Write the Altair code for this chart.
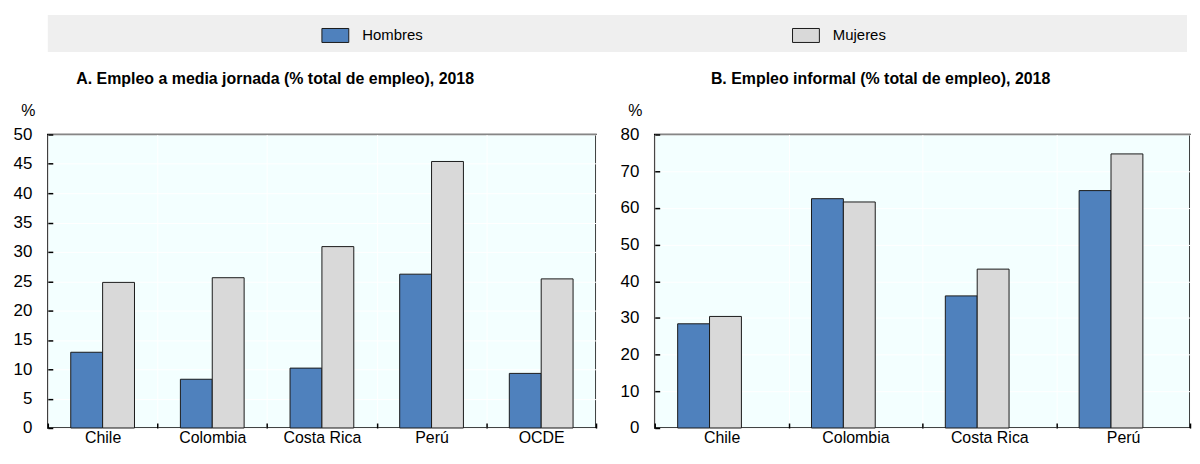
import altair as alt
import pandas as pd

# ---- data ----
series = ["Hombres", "Mujeres"]
series_colors = ["#4F81BD", "#D9D9D9"]

countries_a = ["Chile", "Colombia", "Costa Rica", "Perú", "OCDE"]
hombres_a = [12.9, 8.3, 10.2, 26.2, 9.3]
mujeres_a = [24.8, 25.6, 30.9, 45.4, 25.4]

countries_b = ["Chile", "Colombia", "Costa Rica", "Perú"]
hombres_b = [28.4, 62.5, 36.0, 64.7]
mujeres_b = [30.4, 61.6, 43.3, 74.7]

title_a = "A. Empleo a media jornada (% total de empleo), 2018"
title_b = "B. Empleo informal (% total de empleo), 2018"

FONT = "Liberation Sans, Arial, sans-serif"


def to_long(countries, h, m):
    rows = []
    for c, hv, mv in zip(countries, h, m):
        rows.append({"pais": c, "sexo": "Hombres", "valor": hv})
        rows.append({"pais": c, "sexo": "Mujeres", "valor": mv})
    return pd.DataFrame(rows)


def panel(df, countries, ymax, ystep, title, width, pad_outer, title_dx):
    ticks = list(range(0, ymax + 1, ystep))
    return alt.Chart(df).mark_bar(stroke="#1a1a1a", strokeWidth=1).encode(
        x=alt.X(
            "pais:N", sort=countries,
            scale=alt.Scale(paddingInner=0, paddingOuter=0),
            axis=alt.Axis(
                title=None, labelAngle=0, tickBand="extent", grid=True,
                gridColor="white", gridWidth=1, domain=False, ticks=True,
                tickSize=5, offset=-5, tickColor="#000", tickWidth=1.5,
                labelPadding=2, labelFontSize=16, labelColor="#000", labelFont=FONT,
            ),
        ),
        xOffset=alt.XOffset("sexo:N", sort=series,
                            scale=alt.Scale(paddingOuter=pad_outer, paddingInner=0)),
        y=alt.Y(
            "valor:Q", scale=alt.Scale(domain=[0, ymax], nice=False),
            axis=alt.Axis(
                values=ticks, title="%", titleAngle=0, titleX=-25, titleY=-19,
                titleAlign="center", titleBaseline="alphabetic",
                titleFontWeight="normal", titleFontSize=16, titleFont=FONT,
                titleColor="#000",
                grid=True, gridColor="white", gridWidth=1, domain=False,
                tickSize=5, offset=-5, tickColor="#000", tickWidth=1.5,
                labelPadding=16, labelFontSize=17, labelColor="#000", labelFont=FONT,
            ),
        ),
        color=alt.Color("sexo:N", scale=alt.Scale(domain=series, range=series_colors),
                        legend=None),
    ).properties(
        width=width, height=295,
        title=alt.TitleParams(title, font=FONT, fontSize=16, fontWeight="bold",
                              color="#000", anchor="middle", dx=title_dx, offset=16),
        view=alt.ViewBackground(fill="#F3FFFF", stroke="#000", strokeWidth=1.5),
    )


chart_a = panel(to_long(countries_a, hombres_a, mujeres_a), countries_a, 50, 5,
                title_a, 551, 0.72, -47)
chart_b = panel(to_long(countries_b, hombres_b, mujeres_b), countries_b, 80, 10,
                title_b, 538, 0.74, -42)

# ---- legend band ----
legend_df = pd.DataFrame({"sexo": series})
leg_base = alt.Chart(legend_df).encode(
    x=alt.X("sexo:N", sort=series,
            scale=alt.Scale(type="point", range=[289, 762], padding=0), axis=None),
)
swatch = leg_base.mark_point(
    shape="M-1,-0.52L1,-0.52L1,0.52L-1,0.52Z", size=729, filled=True,
    stroke="#1a1a1a", strokeWidth=1, opacity=1,
).encode(
    y=alt.value(20.5),
    fill=alt.Fill("sexo:N", scale=alt.Scale(domain=series, range=series_colors), legend=None),
)
labels = leg_base.mark_text(align="left", baseline="middle", dx=27, font=FONT,
                            fontSize=15, color="#000").encode(
    y=alt.value(20.5), text="sexo:N")
legend_chart = alt.layer(swatch, labels).properties(
    width=1145, height=37,
    view=alt.ViewBackground(fill="#EFEFEF", strokeWidth=0),
)

chart = alt.vconcat(
    legend_chart,
    alt.hconcat(chart_a, chart_b, spacing=21),
    spacing=18,
).properties(
    padding={"left": 4, "top": 6, "right": 0, "bottom": 0},
).configure(
    font=FONT,
)

chart.save("out.html", embed_options={"renderer": "svg", "actions": False})
